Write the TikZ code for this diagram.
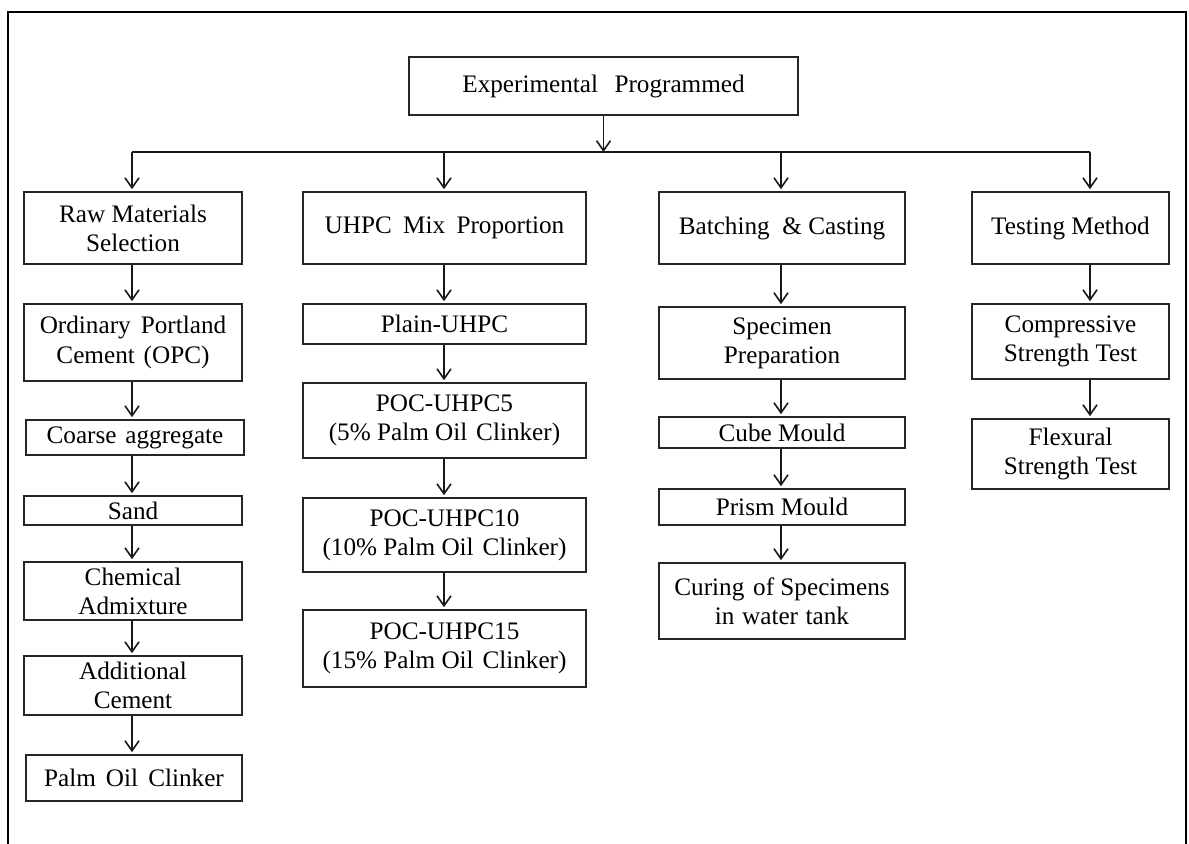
\documentclass[tikz,border=0pt]{standalone}
\usepackage{fontspec}
\setmainfont{Liberation Serif}
\usetikzlibrary{arrows.meta}
\newcommand\flowbox[6]{\node[box, minimum width={(#3-#2)*0.5pt}, minimum height={(#5-#4)*0.5pt}] (#1) at ({(#2+#3)/2},{(#4+#5)/2}) {#6};}
\begin{document}
\begin{tikzpicture}[x=0.5pt,y=-0.5pt,
  box/.style={draw=black!85, line width=0.8pt, align=center, inner sep=0pt,
    font=\fontsize{12.6}{14.6}\selectfont},
  link/.style={draw=black!90, line width=0.8pt},
  conn/.style={link, -{Straight Barb[length=5pt,width=7pt,line width=0.8pt]}, shorten >=1pt},
  frame/.style={draw=black, line width=1.1pt}]
\useasboundingbox (0,0) rectangle (1189,844);
\draw[frame] (8,860) -- (8,12) -- (1186,12) -- (1186,860);

% column axes
\coordinate (c1) at (132,0);
\coordinate (c2) at (444,0);
\coordinate (c3) at (781,0);
\coordinate (c4) at (1090,0);

% top
\flowbox{top}{409}{798}{57}{115}{Experimental\hspace{0.65em}Programmed}

% level 1
\flowbox{raw}{24}{242}{192}{264}{Raw Materials\\Selection}
\flowbox{uhpc}{303}{586}{192}{264}{UHPC\hspace{0.45em}Mix\hspace{0.45em}Proportion}
\flowbox{batch}{659}{905}{192}{264}{Batching\hspace{0.5em}\&\ Casting}
\flowbox{test}{972}{1169}{192}{264}{Testing Method}

% column 1
\flowbox{opc}{24}{242}{304}{381}{Ordinary\hspace{0.4em}Portland\\Cement\hspace{0.35em}(OPC)}
\flowbox{coarse}{26}{244}{420}{455}{Coarse\hspace{0.35em}aggregate}
\flowbox{sand}{24}{242}{496}{525}{Sand}
\flowbox{chem}{24}{242}{562}{620}{Chemical\\Admixture}
\flowbox{addl}{24}{242}{656}{715}{Additional\\Cement}
\flowbox{poc}{26}{242}{755}{801}{Palm\hspace{0.4em}Oil\hspace{0.4em}Clinker}

% column 2
\flowbox{plain}{303}{586}{304}{344}{Plain-UHPC}
\flowbox{p5}{303}{586}{383}{458}{POC-UHPC5\\(5\% Palm Oil\hspace{0.35em}Clinker)}
\flowbox{p10}{303}{586}{498}{572}{POC-UHPC10\\(10\% Palm Oil\hspace{0.35em}Clinker)}
\flowbox{p15}{303}{586}{610}{687}{POC-UHPC15\\(15\% Palm Oil\hspace{0.35em}Clinker)}

% column 3
\flowbox{spec}{659}{905}{307}{379}{Specimen\\Preparation}
\flowbox{cube}{659}{905}{417}{448}{Cube Mould}
\flowbox{prism}{659}{905}{489}{525}{Prism Mould}
\flowbox{curing}{659}{905}{563}{639}{Curing\hspace{0.35em}of Specimens\\in\hspace{0.3em}water\hspace{0.3em}tank}

% column 4
\flowbox{comp}{972}{1169}{304}{379}{Compressive\\Strength Test}
\flowbox{flex}{972}{1169}{419}{489}{Flexural\\Strength Test}

% distribution bar
\coordinate (bl) at (132,152);
\coordinate (br) at (1090,152);
\draw[conn, shorten >=0pt] (top.south) -- (top.south |- bl);
\draw[link] (bl) -- (br);
\draw[conn] (bl) -- (raw.north -| c1);
\draw[conn] (c2 |- bl) -- (uhpc.north -| c2);
\draw[conn] (c3 |- bl) -- (batch.north -| c3);
\draw[conn] (br) -- (test.north -| c4);

% column chains
\draw[conn] (raw.south -| c1) -- (opc.north -| c1);
\draw[conn] (opc.south -| c1) -- (coarse.north -| c1);
\draw[conn] (coarse.south -| c1) -- (sand.north -| c1);
\draw[conn] (sand.south -| c1) -- (chem.north -| c1);
\draw[conn] (chem.south -| c1) -- (addl.north -| c1);
\draw[conn] (addl.south -| c1) -- (poc.north -| c1);

\draw[conn] (uhpc.south -| c2) -- (plain.north -| c2);
\draw[conn] (plain.south -| c2) -- (p5.north -| c2);
\draw[conn] (p5.south -| c2) -- (p10.north -| c2);
\draw[conn] (p10.south -| c2) -- (p15.north -| c2);

\draw[conn] (batch.south -| c3) -- (spec.north -| c3);
\draw[conn] (spec.south -| c3) -- (cube.north -| c3);
\draw[conn] (cube.south -| c3) -- (prism.north -| c3);
\draw[conn] (prism.south -| c3) -- (curing.north -| c3);

\draw[conn] (test.south -| c4) -- (comp.north -| c4);
\draw[conn] (comp.south -| c4) -- (flex.north -| c4);
\end{tikzpicture}
\end{document}
